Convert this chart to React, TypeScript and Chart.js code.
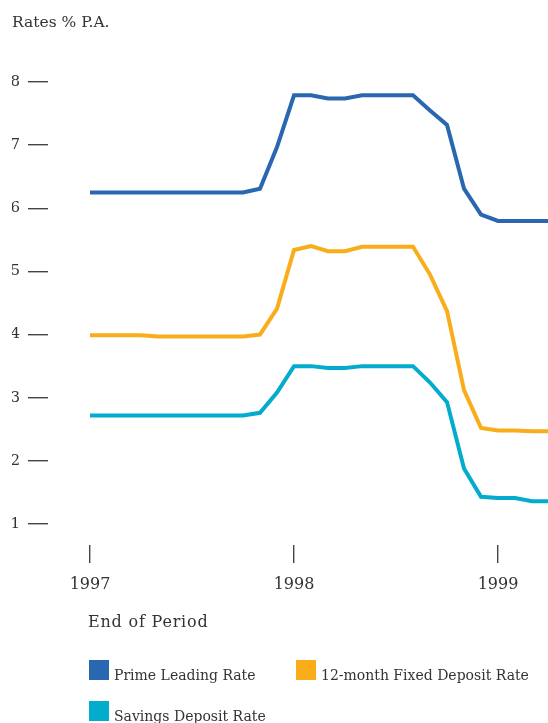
import React, { useEffect, useRef } from "react";
import { Chart, registerables } from "chart.js";

Chart.register(...registerables);

// Month-end periods (Jan 1997 .. Apr 1999)
const periods = [
  "Jan 1997", "Feb 1997", "Mar 1997", "Apr 1997", "May 1997", "Jun 1997",
  "Jul 1997", "Aug 1997", "Sep 1997", "Oct 1997", "Nov 1997", "Dec 1997",
  "Jan 1998", "Feb 1998", "Mar 1998", "Apr 1998", "May 1998", "Jun 1998",
  "Jul 1998", "Aug 1998", "Sep 1998", "Oct 1998", "Nov 1998", "Dec 1998",
  "Jan 1999", "Feb 1999", "Mar 1999", "Apr 1999",
];

const primeLeadingRate = [
  6.25, 6.25, 6.25, 6.25, 6.25, 6.25, 6.25, 6.25, 6.25, 6.25, 6.31, 6.97,
  7.79, 7.79, 7.74, 7.74, 7.79, 7.79, 7.79, 7.79, 7.55, 7.32, 6.31, 5.9,
  5.8, 5.8, 5.8, 5.8,
];

const fixedDeposit12m = [
  3.99, 3.99, 3.99, 3.99, 3.97, 3.97, 3.97, 3.97, 3.97, 3.97, 4.0, 4.41,
  5.34, 5.4, 5.32, 5.32, 5.39, 5.39, 5.39, 5.39, 4.95, 4.37, 3.12, 2.52,
  2.48, 2.48, 2.47, 2.47,
];

const savingsDepositRate = [
  2.72, 2.72, 2.72, 2.72, 2.72, 2.72, 2.72, 2.72, 2.72, 2.72, 2.76, 3.08,
  3.5, 3.5, 3.47, 3.47, 3.5, 3.5, 3.5, 3.5, 3.24, 2.93, 1.88, 1.43,
  1.41, 1.41, 1.36, 1.36,
];

const seriesNames = ["Prime Leading Rate", "12-month Fixed Deposit Rate", "Savings Deposit Rate"];
const seriesColors = ["#2a67b1", "#f9ad1a", "#03abcd"];
const seriesValues = [primeLeadingRate, fixedDeposit12m, savingsDepositRate];

const yTickValues = [1, 2, 3, 4, 5, 6, 7, 8];
const xTickPeriods = ["Jan 1997", "Jan 1998", "Jan 1999"];
const xTickLabels = ["1997", "1998", "1999"];

const yAxisTitle = "Rates % P.A.";
const xAxisTitle = "End of Period";

const FONT = "'DejaVu Serif', serif";
const TEXT = "#333333";

export default function App() {
  const canvasRef = useRef<HTMLCanvasElement | null>(null);

  useEffect(() => {
    const canvas = canvasRef.current;
    if (!canvas) return;
    Chart.defaults.font.family = FONT;
    const tickIdx = xTickPeriods.map((p) => periods.indexOf(p));

    const chart = new Chart(canvas, {
      type: "line",
      data: {
        datasets: seriesValues.map((vals, s) => ({
          label: seriesNames[s],
          data: vals.map((v, i) => ({ x: i, y: v })),
          borderColor: seriesColors[s],
          backgroundColor: seriesColors[s],
          borderWidth: 4,
          pointRadius: 0,
          tension: 0,
          fill: false,
        })),
      },
      options: {
        responsive: false,
        animation: false,
        events: [],
        layout: { padding: { left: 12, right: 0, top: 0, bottom: 0 } },
        plugins: {
          legend: { display: false },
          tooltip: { enabled: false },
          title: {
            display: true,
            text: yAxisTitle,
            align: "start",
            color: TEXT,
            font: { family: FONT, size: 15.5, weight: "normal" },
            padding: { top: 13.3, bottom: 50.1 },
          },
        },
        scales: {
          x: {
            type: "linear",
            min: -2.47,
            max: 26.94,
            border: { display: false },
            grid: {
              drawOnChartArea: false,
              drawTicks: true,
              tickLength: 18,
              tickColor: "#444",
              lineWidth: 1.4,
            },
            afterBuildTicks: (scale: any) => {
              scale.ticks = tickIdx.map((v) => ({ value: v }));
            },
            afterFit: (scale: any) => {
              scale.height = 178;
            },
            ticks: {
              autoSkip: false,
              maxRotation: 0,
              padding: 12,
              color: TEXT,
              font: { family: FONT, size: 16 },
              callback: (value: any) => {
                const k = tickIdx.indexOf(Number(value));
                return k >= 0 ? xTickLabels[k] : "";
              },
            },
          },
          y: {
            type: "linear",
            min: 0.667,
            max: 8,
            border: { display: false },
            grid: {
              drawOnChartArea: false,
              drawTicks: true,
              tickLength: 20,
              tickColor: "#444",
              lineWidth: 1.4,
            },
            afterBuildTicks: (scale: any) => {
              scale.ticks = yTickValues.map((v) => ({ value: v }));
            },
            afterFit: (scale: any) => {
              scale.width = 36;
            },
            ticks: {
              padding: 8,
              color: TEXT,
              font: { family: FONT, size: 15 },
              callback: (value: any) => String(value),
            },
          },
        },
      },
    });
    return () => chart.destroy();
  }, []);

  const legendPos = [
    { left: 89, top: 660 },
    { left: 296, top: 660 },
    { left: 89, top: 701 },
  ];

  return (
    <div style={{ position: "absolute", left: 0, top: 0, width: 548, height: 723, background: "#fff", overflow: "hidden" }}>
      <canvas ref={canvasRef} width={548} height={723} style={{ position: "absolute", left: 0, top: 0, width: 548, height: 723 }} />
      <div
        style={{
          position: "absolute",
          left: 88,
          top: 614,
          fontFamily: FONT,
          fontSize: 16,
          lineHeight: "16px",
          letterSpacing: "0.8px",
          color: TEXT,
          whiteSpace: "nowrap",
        }}
      >
        {xAxisTitle}
      </div>
      {seriesNames.map((name, s) => (
        <div key={name} style={{ position: "absolute", left: legendPos[s].left, top: legendPos[s].top, height: 20, whiteSpace: "nowrap" }}>
          <div style={{ position: "absolute", left: 0, top: 0, width: 20, height: 20, background: seriesColors[s] }} />
          <div
            style={{
              position: "absolute",
              left: 25,
              top: 8,
              fontFamily: FONT,
              fontSize: 14,
              lineHeight: "14px",
              color: TEXT,
            }}
          >
            {name}
          </div>
        </div>
      ))}
    </div>
  );
}
